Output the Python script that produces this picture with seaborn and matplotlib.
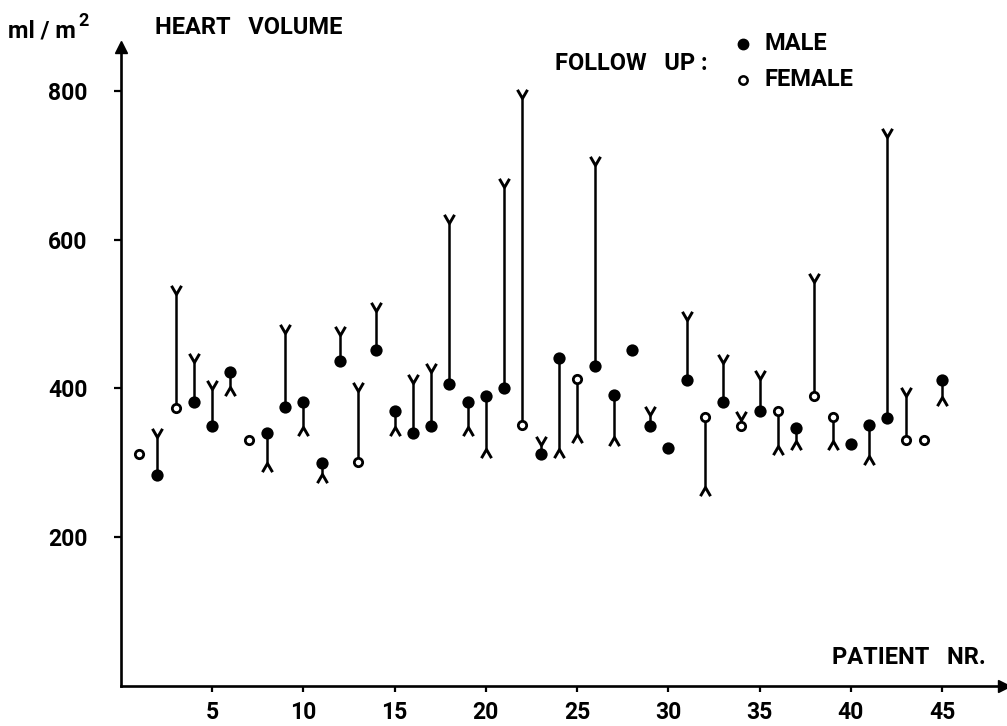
import numpy as np
import pandas as pd
import matplotlib
matplotlib.use("Agg")
import matplotlib.pyplot as plt
import seaborn as sns
from matplotlib.path import Path
from matplotlib.lines import Line2D

# ---- data ----
patient = list(range(1, 46))
sex = ["F", "M", "F", "M", "M", "M", "F", "M", "M", "M",
       "M", "M", "F", "M", "M", "M", "M", "M", "M", "M",
       "M", "F", "M", "M", "F", "M", "M", "M", "M", "M",
       "M", "F", "M", "F", "M", "F", "M", "F", "F", "M",
       "M", "M", "F", "F", "M"]
initial = [311, 283, 374, 381, 349, 422, 330, 340, 375, 382,
           300, 437, 301, 451, 370, 340, 349, 406, 382, 390,
           401, 350, 311, 441, 412, 430, 391, 451, 349, 320,
           411, 361, 381, 349, 370, 370, 346, 390, 361, 325,
           350, 360, 330, 330, 411]
follow_up = [np.nan, 335, 527, 436, 399, 402, np.nan, 299, 475, 348,
             285, 472, 397, 504, 348, 407, 422, 623, 348, 318,
             671, 791, 324, 318, 339, 700, 335, np.nan, 364, np.nan,
             492, 267, 434, 357, 413, 323, 329, 543, 329, np.nan,
             309, 738, 389, np.nan, 388]
x_ticks = [5, 10, 15, 20, 25, 30, 35, 40, 45]
y_ticks = [200, 400, 600, 800]

df = pd.DataFrame({"patient": patient, "sex": sex,
                   "initial": initial, "follow": follow_up})

sns.set_theme(style="white")
plt.rcParams["font.family"] = ["Roboto", "DejaVu Sans"]
plt.rcParams["font.weight"] = "bold"

W, H = 1007, 726
fig = plt.figure(figsize=(W / 100, H / 100), dpi=100)
ax = fig.add_axes([120.75 / W, 40.5 / H, 883 / W, 639 / H])
ax.set_xlim(0, 883 / 18.25)
ax.set_ylim(0, 639 / 0.743)

fu = df.dropna(subset=["follow"])
ax.vlines(fu["patient"], fu["initial"], fu["follow"], color="black", lw=1.8, zorder=2)

up_marker = Path([(-0.58, 1.0), (0, 0), (0.58, 1.0)],
                 [Path.MOVETO, Path.LINETO, Path.LINETO])
down_marker = Path([(-0.58, -1.0), (0, 0), (0.58, -1.0)],
                   [Path.MOVETO, Path.LINETO, Path.LINETO])
up = fu[fu["follow"] > fu["initial"]]
dn = fu[fu["follow"] < fu["initial"]]
ax.plot(up["patient"], up["follow"], ls="none", marker=up_marker, ms=12.5,
        mew=2.1, mfc="none", mec="black", zorder=2)
ax.plot(dn["patient"], dn["follow"], ls="none", marker=down_marker, ms=12.5,
        mew=2.1, mfc="none", mec="black", zorder=2)

sns.scatterplot(data=df[df["sex"] == "M"], x="patient", y="initial", color="black",
                s=78, linewidth=0, ax=ax, legend=False, zorder=3)
sns.scatterplot(data=df[df["sex"] == "F"], x="patient", y="initial", color="white",
                edgecolor="black", s=36, linewidth=2.0, ax=ax, legend=False, zorder=3)

for s in ["top", "right"]:
    ax.spines[s].set_visible(False)
for s in ["left", "bottom"]:
    ax.spines[s].set_color("black")
    ax.spines[s].set_linewidth(1.9)
ax.plot(0, 1, marker="^", color="black", ms=8, transform=ax.transAxes, clip_on=False)
ax.plot(1, 0, marker=">", color="black", ms=8, transform=ax.transAxes, clip_on=False)

ax.set_xticks(x_ticks)
ax.set_yticks(y_ticks)
ax.tick_params(axis="x", direction="out", length=4, width=1.6, pad=7,
               labelsize=16.5, colors="black", bottom=True)
ax.tick_params(axis="y", direction="out", length=5, width=1.6, pad=19,
               labelsize=16.5, colors="black", left=True)
ax.set_xlabel("")
ax.set_ylabel("")

def ft(x, y, s, size=17, **kw):
    return fig.text(x / W, 1 - y / H, s, va="center", ha="left", fontsize=size,
                    color="black", fontweight="bold", **kw)

unit = ft(8, 31, "ml / m")
ax.annotate("2", xy=(1, 1), xycoords=unit, xytext=(1.5, -1),
            textcoords="offset points", ha="left", va="center", fontsize=13,
            fontweight="bold", color="black", annotation_clip=False)
ft(155, 28, "HEART   VOLUME")
ft(555, 63, "FOLLOW   UP :")
ft(765, 44, "MALE")
ft(765, 80, "FEMALE")
ft(832, 658, "PATIENT   NR.")
fig.add_artist(Line2D([743 / W], [1 - 44 / H], marker="o", ms=7.5, color="black",
                      mec="black", ls="none", transform=fig.transFigure))
fig.add_artist(Line2D([743 / W], [1 - 80 / H], marker="o", ms=6, mfc="white",
                      mec="black", mew=1.8, ls="none", transform=fig.transFigure))

fig.savefig("out.png", dpi=100)
